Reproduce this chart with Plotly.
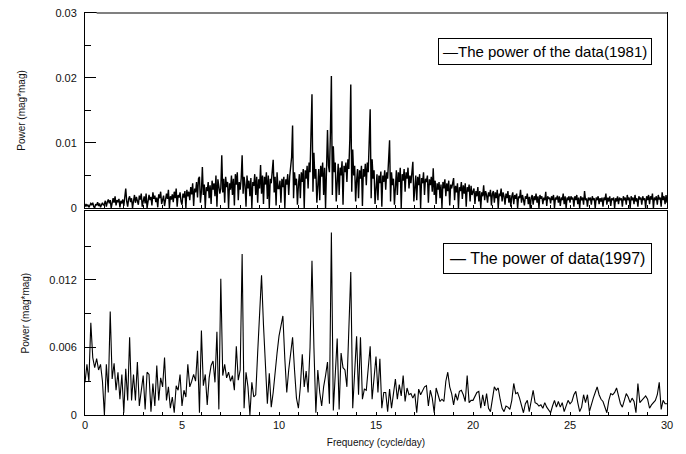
import plotly.graph_objects as go

# ---------------- data (power in units of 1e-4 mag*mag) ----------------
freq_start = 0.0
step_1981 = 0.05   # cycle/day
step_1997 = 0.1    # cycle/day

power_1981_e4 = [
    2, 6, 3, 5, 1, 4, 7, 5, 8, 2, 0, 6, 4, 9, 3, 7, 1, 5, 8, 4,
    6, 11, 2, 9, 13, 7, 12, 0, 10, 15, 8, 18, 4, 12, 9, 14, 1, 11, 7, 13,
    3, 16, 30, 10, 2, 14, 18, 9, 15, 0, 12, 20, 8, 17, 11, 5, 19, 13, 22, 2,
    10, 18, 7, 22, 0, 15, 20, 12, 17, 4, 24, 14, 19, 9, 16, 1, 21, 15, 25, 6,
    12, 19, 3, 17, 22, 14, 28, 0, 18, 13, 21, 9, 25, 15, 30, 2, 20, 16, 24, 10,
    5, 22, 16, 26, 0, 28, 18, 25, 12, 32, 21, 38, 3, 30, 24, 40, 16, 45, 48, 8,
    25, 63, 20, 36, 0, 32, 26, 40, 15, 35, 6, 42, 28, 38, 18, 50, 2, 44, 30, 22,
    30, 81, 24, 45, 8, 48, 32, 40, 0, 38, 28, 50, 20, 45, 4, 52, 36, 55, 12, 40,
    28, 45, 81, 22, 48, 35, 2, 50, 30, 42, 18, 46, 0, 40, 34, 52, 20, 48, 8, 44,
    30, 66, 22, 50, 6, 48, 36, 55, 14, 50, 0, 45, 38, 52, 74, 24, 48, 4, 55, 30,
    30, 42, 8, 45, 32, 48, 0, 44, 36, 52, 20, 48, 60, 78, 127, 15, 55, 35, 45, 5,
    35, 52, 15, 55, 40, 60, 0, 58, 45, 65, 30, 70, 55, 110, 175, 25, 85, 45, 60, 8,
    40, 60, 12, 65, 48, 70, 20, 62, 0, 70, 120, 65, 55, 115, 203, 20, 95, 55, 70, 10,
    45, 68, 20, 62, 50, 72, 5, 65, 55, 70, 40, 75, 60, 105, 190, 25, 90, 50, 65, 10,
    42, 60, 15, 58, 45, 65, 3, 60, 48, 68, 35, 70, 55, 90, 152, 15, 75, 45, 58, 6,
    35, 52, 12, 50, 38, 56, 2, 50, 40, 58, 28, 55, 45, 70, 104, 10, 55, 35, 45, 5,
    35, 58, 20, 55, 40, 62, 0, 52, 42, 60, 25, 55, 45, 62, 30, 50, 38, 55, 71, 10,
    30, 50, 12, 48, 35, 52, 0, 46, 38, 55, 20, 45, 40, 50, 8, 44, 35, 48, 25, 61,
    20, 42, 6, 38, 28, 40, 15, 36, 0, 40, 30, 44, 18, 38, 26, 42, 4, 36, 30, 38,
    46, 12, 34, 24, 38, 0, 32, 26, 40, 14, 35, 22, 38, 2, 32, 25, 36, 10, 34, 20,
    24, 30, 6, 26, 18, 32, 10, 26, 0, 24, 18, 35, 12, 26, 20, 8, 24, 18, 28, 4,
    22, 26, 8, 24, 15, 28, 0, 22, 18, 30, 10, 24, 18, 5, 22, 15, 26, 8, 20, 2,
    18, 24, 6, 20, 14, 22, 0, 18, 15, 28, 8, 20, 13, 4, 18, 14, 22, 6, 17, 0,
    16, 20, 5, 18, 12, 22, 8, 18, 0, 20, 14, 18, 6, 16, 12, 25, 3, 18, 14, 16,
    7, 18, 12, 20, 0, 16, 13, 19, 8, 18, 3, 16, 12, 22, 6, 18, 0, 16, 12, 18,
    8, 18, 13, 16, 2, 18, 12, 20, 6, 16, 0, 18, 12, 16, 5, 26, 12, 15, 2, 16,
    12, 16, 5, 18, 12, 15, 0, 16, 12, 18, 6, 15, 10, 16, 2, 16, 12, 22, 5, 16,
    10, 18, 3, 15, 12, 16, 0, 15, 10, 18, 6, 16, 12, 15, 2, 18, 12, 16, 5, 20,
    12, 16, 0, 18, 12, 16, 6, 20, 10, 15, 2, 18, 13, 16, 5, 18, 12, 15, 0, 18,
    12, 20, 6, 18, 13, 22, 0, 16, 12, 18, 5, 20, 13, 16, 2, 24, 12, 18, 6, 20,
    8,
]

power_1997_e4 = [
    29, 45, 30, 82, 51, 42, 50, 40, 45, 30,
    0, 45, 20, 92, 32, 46, 22, 38, 14, 36,
    2, 41, 13, 69, 13, 36, 13, 47, 8, 20,
    35, 5, 38, 36, 3, 28, 8, 44, 13, 33,
    25, 51, 13, 25, 6, 16, 2, 26, 22, 36,
    8, 22, 16, 45, 25, 30, 36, 30, 57, 2,
    75, 26, 36, 9, 33, 44, 48, 29, 74, 5,
    121, 35, 45, 33, 38, 30, 35, 22, 61, 31,
    40, 143, 6, 38, 25, 0, 29, 16, 18, 55,
    90, 124, 80, 40, 10, 37, 7, 20, 40, 55,
    70, 80, 88, 50, 20, 40, 55, 69, 40, 15,
    6, 25, 54, 25, 39, 20, 60, 137, 60, 2,
    40, 20, 8, 25, 35, 47, 10, 162, 4, 40,
    68, 5, 55, 42, 40, 25, 70, 127, 6, 40,
    70, 18, 69, 14, 23, 22, 40, 61, 14, 30,
    52, 20, 50, 6, 20, 20, 3, 23, 6, 19,
    32, 14, 27, 17, 35, 12, 24, 18, 19, 15,
    19, 2, 23, 18, 22, 25, 26, 8, 22, 15,
    2, 24, 18, 12, 14, 12, 30, 38, 25, 19,
    9, 19, 13, 21, 22, 18, 12, 35, 11, 13,
    13, 16, 20, 21, 6, 18, 8, 19, 6, 3,
    15, 25, 22, 24, 14, 6, 3, 8, 7, 5,
    13, 28, 19, 20, 15, 8, 2, 10, 13, 3,
    12, 22, 11, 10, 8, 9, 6, 11, 7, 5,
    2, 8, 13, 7, 12, 7, 11, 3, 8, 13,
    10, 12, 18, 21, 11, 3, 7, 18, 11, 18,
    3, 10, 15, 20, 25, 18, 14, 12, 6, 2,
    13, 19, 18, 20, 24, 16, 10, 7, 13, 19,
    16, 11, 15, 12, 2, 28, 11, 13, 14, 17,
    14, 6, 9, 11, 13, 18, 29, 5, 13, 10,
    10,
]

x_tick_vals = [0, 5, 10, 15, 20, 25, 30]
x_tick_text = ["0", "5", "10", "15", "20", "25", "30"]
top_tick_vals = [0, 0.01, 0.02, 0.03]
top_tick_text = ["0", "0.01", "0.02", "0.03"]
top_minor_vals = [0.005, 0.015, 0.025]
bot_tick_vals = [0, 0.006, 0.012]
bot_tick_text = ["0", "0.006", "0.012"]
bot_minor_vals = [0.003, 0.009, 0.015]

label_1981 = "The power of the data(1981)"
label_1997 = "The power of data(1997)"

FONT = "Liberation Sans, Arial, Helvetica, sans-serif"

# ---------------- figure ----------------
fig = go.Figure()
fig.add_trace(go.Scatter(
    x0=freq_start, dx=step_1981, y=[v * 1e-4 for v in power_1981_e4],
    mode="lines", line=dict(color="black", width=1.4),
    xaxis="x", yaxis="y", name=label_1981, showlegend=False))
fig.add_trace(go.Scatter(
    x0=freq_start, dx=step_1997, y=[v * 1e-4 for v in power_1997_e4],
    mode="lines", line=dict(color="black", width=1.1),
    xaxis="x2", yaxis="y2", name=label_1997, showlegend=False))

axis_common = dict(showline=True, linecolor="black", linewidth=1, mirror=True,
                   showgrid=False, zeroline=False, tickcolor="black", tickwidth=1)

x_common = dict(axis_common, range=[0, 30], tickmode="array",
                tickvals=x_tick_vals, ticktext=x_tick_text,
                ticks="inside", ticklen=3,
                minor=dict(dtick=1, tick0=0, ticks="inside", ticklen=3,
                           tickcolor="black", showgrid=False))

fig.update_layout(
    width=686, height=454,
    margin=dict(l=85, r=19, t=7, b=39),
    paper_bgcolor="white", plot_bgcolor="white",
    font=dict(family=FONT, color="#111", size=11),
    xaxis=dict(x_common, anchor="y", showticklabels=False),
    xaxis2=dict(x_common, anchor="y2", matches="x",
                tickfont=dict(size=11, color="#111"),
                title=dict(text="Frequency (cycle/day)", font=dict(size=10, color="#111"),
                           standoff=8)),
    yaxis=dict(axis_common, domain=[0.515, 1.0], anchor="x", range=[0, 0.03],
               tickmode="array", tickvals=top_tick_vals, ticktext=top_tick_text,
               ticks="inside", ticklen=11, ticklabelstandoff=5,
               tickfont=dict(size=11, color="#111"),
               minor=dict(tickvals=top_minor_vals, ticks="inside", ticklen=6,
                          tickcolor="black", showgrid=False),
               title=dict(text="Power (mag*mag)", font=dict(size=10, color="#111"),
                          standoff=27)),
    yaxis2=dict(axis_common, domain=[0.0, 0.507], anchor="x2", range=[0, 0.0181],
                tickmode="array", tickvals=bot_tick_vals, ticktext=bot_tick_text,
                ticks="inside", ticklen=11, ticklabelstandoff=5,
                tickfont=dict(size=11, color="#111"),
                minor=dict(tickvals=bot_minor_vals, ticks="inside", ticklen=6,
                           tickcolor="black", showgrid=False),
                title=dict(text="Power (mag*mag)", font=dict(size=10, color="#111"),
                           standoff=17)),
)

# grey top frame line of the upper panel
fig.add_shape(type="line", xref="x domain", yref="y domain",
              x0=0.02, x1=1, y0=1, y1=1, line=dict(color="#808080", width=2))

# legend boxes
fig.add_annotation(xref="x domain", yref="y domain", x=0.974, y=0.80,
                   xanchor="right", yanchor="middle", showarrow=False,
                   text="\u2014" + label_1981,
                   font=dict(size=15, color="black", family=FONT),
                   bordercolor="black", borderwidth=1, borderpad=4, bgcolor="white")
fig.add_annotation(xref="x2 domain", yref="y2 domain", x=0.974, y=0.77,
                   xanchor="right", yanchor="middle", showarrow=False,
                   text="\u2014 " + label_1997,
                   font=dict(size=16, color="black", family=FONT),
                   bordercolor="black", borderwidth=1, borderpad=6, bgcolor="white")

fig.write_html("out.html", config={"displayModeBar": False},
               post_script="document.body.style.margin='0';")
